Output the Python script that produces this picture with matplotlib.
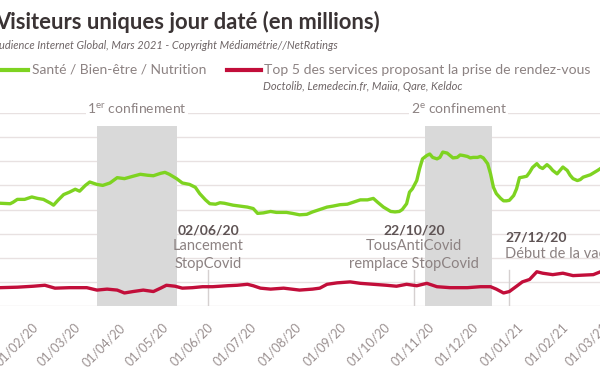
import matplotlib
matplotlib.use("Agg")
import matplotlib.pyplot as plt
import matplotlib.dates as mdates
import pandas as pd

# jours depuis le 01/01/2020
sante_jours = [9, 16, 18, 21, 26, 31, 35, 39, 44, 46, 49, 53, 57, 61, 64, 68, 71, 76, 80, 85,
               90, 95, 101, 106, 111, 115, 120, 123, 126, 131, 135, 140, 144, 147, 151, 154,
               158, 161, 164, 170, 175, 180, 184, 187, 191, 196, 200, 207, 211, 216, 221, 225,
               230, 235, 239, 244, 249, 253, 258, 263, 267, 270, 274, 279, 282, 285, 287, 290,
               292, 294, 297, 299, 301, 304, 306, 308, 311, 313, 315, 318, 320, 322, 325, 327,
               329, 332, 334, 336, 339, 341, 343, 346, 348, 350, 352, 355, 357, 359, 361, 364,
               366, 368, 370, 373, 375, 377, 380, 382, 384, 387, 389, 391, 394, 396, 398, 401,
               403, 405, 408, 410, 412, 417, 422, 424]
# millions
sante = [2.13, 2.12, 2.15, 2.21, 2.21, 2.26, 2.23, 2.21, 2.13, 2.09, 2.19, 2.31, 2.36, 2.42,
         2.38, 2.50, 2.57, 2.52, 2.50, 2.55, 2.66, 2.64, 2.69, 2.73, 2.71, 2.70, 2.75, 2.77,
         2.73, 2.64, 2.55, 2.52, 2.46, 2.33, 2.20, 2.12, 2.11, 2.14, 2.13, 2.09, 2.07, 2.05,
         2.02, 1.92, 1.93, 1.96, 1.94, 1.94, 1.92, 1.89, 1.90, 1.95, 2.00, 2.05, 2.07, 2.10,
         2.11, 2.15, 2.20, 2.20, 2.23, 2.15, 2.05, 1.96, 1.95, 1.96, 2.00, 2.12, 2.36, 2.43,
         2.60, 2.85, 3.05, 3.12, 3.15, 3.08, 3.05, 3.08, 3.19, 3.17, 3.12, 3.07, 3.08, 3.13,
         3.12, 3.10, 3.07, 3.08, 3.08, 3.10, 3.07, 2.95, 2.74, 2.46, 2.33, 2.23, 2.18, 2.18,
         2.19, 2.29, 2.43, 2.66, 2.67, 2.69, 2.77, 2.87, 2.95, 2.88, 2.85, 2.93, 2.88, 2.81,
         2.74, 2.81, 2.88, 2.81, 2.71, 2.64, 2.60, 2.62, 2.67, 2.72, 2.81, 2.85]

rdv_jours = [9, 21, 32, 40, 47, 57, 69, 76, 83, 90, 95, 101, 108, 115, 120, 124, 130, 135, 142,
             149, 156, 166, 173, 180, 184, 189, 196, 205, 216, 225, 230, 235, 242, 251, 258,
             267, 276, 283, 290, 297, 304, 311, 320, 332, 341, 348, 352, 357, 361, 366, 370,
             375, 380, 384, 391, 398, 405, 412, 419, 424]
rdv = [0.38, 0.39, 0.41, 0.43, 0.37, 0.38, 0.38, 0.33, 0.35, 0.33, 0.27, 0.30, 0.33, 0.30,
       0.37, 0.43, 0.41, 0.37, 0.38, 0.40, 0.40, 0.42, 0.43, 0.45, 0.42, 0.37, 0.35, 0.37,
       0.33, 0.35, 0.37, 0.45, 0.48, 0.50, 0.47, 0.45, 0.43, 0.41, 0.45, 0.42, 0.47, 0.40,
       0.38, 0.38, 0.40, 0.40, 0.35, 0.27, 0.30, 0.41, 0.50, 0.55, 0.71, 0.68, 0.65, 0.68,
       0.63, 0.64, 0.65, 0.71]

confinements = [("2020-03-17", "2020-05-11", "1$^{\\mathregular{er}}$ confinement"),
                ("2020-10-30", "2020-12-15", "2$^{\\mathregular{e}}$ confinement")]
evenements = [("2020-06-02", "02/06/20", "Lancement\nStopCovid"),
              ("2020-10-22", "22/10/20", "TousAntiCovid\nremplace StopCovid"),
              ("2020-12-27", "27/12/20", "Début de la vaccination")]

plt.rcParams['font.family'] = ['Lato', 'DejaVu Sans']
vert = '#7ed321'
rouge = '#c20e3a'
gris_txt = '#8c8282'

debut = pd.Timestamp("2020-01-01")
x1 = debut + pd.to_timedelta(sante_jours, unit='D')
x2 = debut + pd.to_timedelta(rdv_jours, unit='D')

fig = plt.figure(figsize=(6, 3.72), dpi=100)
# l'axe déborde à droite : le graphique d'origine est coupé
ax = fig.add_axes([0, 0.1774, 1.02, 0.5188])

for d0, d1, nom in confinements:
    a, b = pd.Timestamp(d0), pd.Timestamp(d1)
    ax.axvspan(a, b, ymin=0, ymax=3.74 / 4, color='#d9d9d9', lw=0, zorder=1)
    ax.text(a + (b - a) / 2, 4.1, nom, ha='center', va='center', fontsize=10, color=gris_txt,
            bbox=dict(fc='white', ec='none', pad=1), zorder=5)

for d, date_txt, desc in evenements:
    t = pd.Timestamp(d)
    ax.axvline(t, ymin=0, ymax=0.75 / 4, color='#d5d0d0', lw=1, zorder=1)
    if d == "2020-12-27":
        ax.text(t - pd.Timedelta(days=3), 1.42, date_txt, ha='left', va='center', fontsize=10,
                fontweight='bold', color='#5e5354', zorder=5)
        ax.text(t - pd.Timedelta(days=3), 1.08, desc, ha='left', va='center', fontsize=10.5,
                color=gris_txt, zorder=5)
    else:
        ax.text(t, 1.57, date_txt, ha='center', va='center', fontsize=10, fontweight='bold',
                color='#5e5354', zorder=5)
        ax.text(t, 1.06, desc, ha='center', va='center', fontsize=10.5, color=gris_txt,
                linespacing=1.3, zorder=5)

ax.plot(x1, sante, color=vert, lw=2.4, zorder=3)
ax.plot(x2, rdv, color=rouge, lw=2.4, zorder=3)

ax.set_xlim(debut + pd.Timedelta(days=9), debut + pd.Timedelta(days=9 + 612 / 1.447))
ax.set_ylim(0, 4)
ax.set_yticks([i * 0.5 for i in range(9)])
ax.yaxis.grid(True, color='#e8e1e1', lw=1)
ax.set_axisbelow(True)
ax.tick_params(axis='y', left=False, labelleft=False)
ax.xaxis.set_major_locator(mdates.MonthLocator())
ax.xaxis.set_major_formatter(mdates.DateFormatter('%d/%m/%y'))
ax.tick_params(axis='x', length=0, pad=11, labelsize=9, labelcolor='#9a9090')
for lab in ax.get_xticklabels():
    lab.set_rotation(45)
    lab.set_ha('right')
    lab.set_rotation_mode('anchor')
for s in ax.spines.values():
    s.set_visible(False)

# titre et légende
fig.text(-0.008, 0.94, "Visiteurs uniques jour daté (en millions)", fontsize=15.8,
         fontweight='bold', color='#3a3334', va='center')
fig.text(-0.012, 0.879, "Audience Internet Global, Mars 2021 - Copyright Médiamétrie//NetRatings",
         fontsize=7.9, style='italic', color='#6e6566', va='center')
fig.add_artist(plt.Line2D([0, 0.047], [0.812, 0.812], color=vert, lw=3))
fig.text(0.053, 0.812, "Santé / Bien-être / Nutrition", fontsize=10, color=gris_txt, va='center')
fig.add_artist(plt.Line2D([0.378, 0.435], [0.812, 0.812], color=rouge, lw=3))
fig.text(0.44, 0.812, "Top 5 des services proposant la prise de rendez-vous", fontsize=10.1,
         color=gris_txt, va='center')
fig.text(0.438, 0.768, "Doctolib, Lemedecin.fr, Maiia, Qare, Keldoc", fontsize=8,
         style='italic', color='#6e6566', va='center')

fig.savefig("out.png", dpi=100)
